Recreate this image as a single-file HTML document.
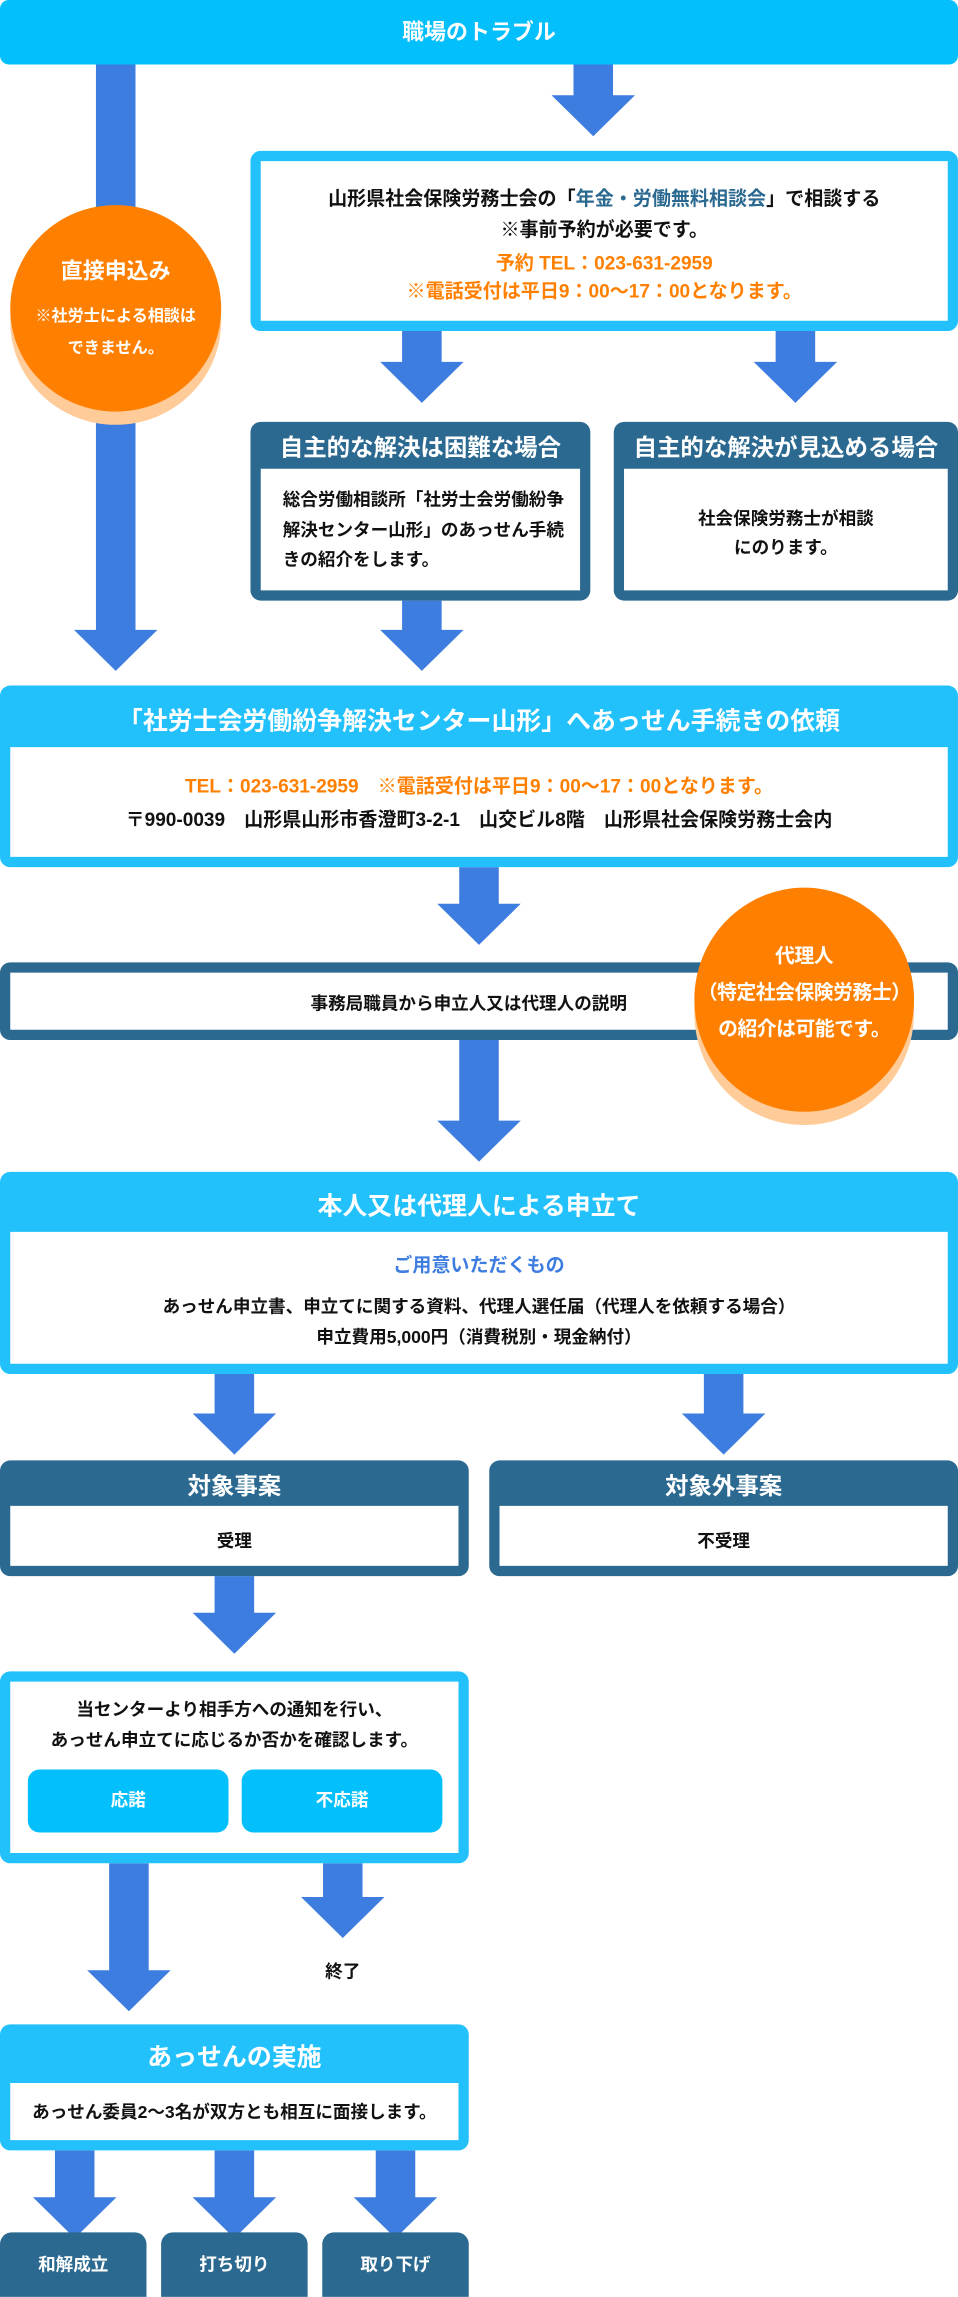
<!DOCTYPE html>
<html><head><meta charset="utf-8"><style>
*{margin:0;padding:0;box-sizing:border-box}
html,body{width:958px;height:2296px;overflow:hidden;background:#fff}
#w{position:absolute;left:0;top:0;width:654px;height:1568px;transform:scale(1.46483);transform-origin:0 0;font-family:"Liberation Sans","Noto Sans CJK JP",sans-serif;font-weight:bold}
.a{position:absolute}
.t{position:absolute;left:0;right:0;text-align:center;white-space:nowrap}
.cy{border:7px solid #22c1fc;border-radius:7px;background:#fff}
.dk{border:7px solid #2b6990;border-radius:7px;background:#fff}
.hc{background:#22c1fc}
.hd{background:#2b6990}
.wh{color:#fff}
.or{color:#ff8000}
.circ{position:absolute;border-radius:50%;background:#ff8000;box-shadow:0 9px 0 #ffcc99;color:#fff;text-align:center}
</style></head><body><div id="w">
<svg class="a" style="left:0;top:0" width="654" height="1568" fill="#3e7de0">
<polygon points="65.5,44 92.5,44 92.5,430 107.5,430 79,458 50.5,430 65.5,430"/>
<polygon points="391.5,44 418.5,44 418.5,65 433.5,65 405,93 376.5,65 391.5,65"/>
<polygon points="274.5,226 301.5,226 301.5,247 316.5,247 288,275 259.5,247 274.5,247"/>
<polygon points="529.5,226 556.5,226 556.5,247 571.5,247 543,275 514.5,247 529.5,247"/>
<polygon points="274.5,410 301.5,410 301.5,430 316.5,430 288,458 259.5,430 274.5,430"/>
<polygon points="313.5,592 340.5,592 340.5,617 355.5,617 327,645 298.5,617 313.5,617"/>
<polygon points="313.5,710 340.5,710 340.5,765 355.5,765 327,793 298.5,765 313.5,765"/>
<polygon points="146.5,938 173.5,938 173.5,965 188.5,965 160,993 131.5,965 146.5,965"/>
<polygon points="480.5,938 507.5,938 507.5,965 522.5,965 494,993 465.5,965 480.5,965"/>
<polygon points="146.5,1076 173.5,1076 173.5,1101 188.5,1101 160,1129 131.5,1101 146.5,1101"/>
<polygon points="74.5,1272 101.5,1272 101.5,1345 116.5,1345 88,1373 59.5,1345 74.5,1345"/>
<polygon points="220.5,1272 247.5,1272 247.5,1295 262.5,1295 234,1323 205.5,1295 220.5,1295"/>
<polygon points="37.5,1468 64.5,1468 64.5,1500 79.5,1500 51,1528 22.5,1500 37.5,1500"/>
<polygon points="146.5,1468 173.5,1468 173.5,1500 188.5,1500 160,1528 131.5,1500 146.5,1500"/>
<polygon points="256.5,1468 283.5,1468 283.5,1500 298.5,1500 270,1528 241.5,1500 256.5,1500"/>
</svg>

<div class="a" style="left:0;top:0;width:654px;height:44px;background:#03bffc;border-radius:6px"></div>
<div class="t wh" style="top:11px;font-size:15px">職場のトラブル</div>

<div class="circ" style="left:7px;top:140px;width:144px;height:141px">
<div style="margin-top:34px;font-size:15px">直接申込み</div>
<div style="margin-top:10px;font-size:11px;line-height:22px">※社労士による相談は<br>できません。</div>
</div>

<div class="a cy" style="left:171px;top:103px;width:483px;height:123px;font-size:13px;text-align:center;line-height:21px;padding-top:15px;color:#111">
山形県社会保険労務士会の「<span style="color:#2b6990">年金・労働無料相談会</span>」で相談する<br>※事前予約が必要です。
<div class="or" style="margin-top:3px;line-height:19px">予約 TEL：023-631-2959<br>※電話受付は平日9：00〜17：00となります。</div>
</div>

<div class="a dk" style="left:171px;top:288px;width:232px;height:122px;border-top-width:32px;font-size:12px;line-height:20.5px;padding:11px 0 0 15px;color:#111">総合労働相談所「社労士会労働紛争<br>解決センター山形」のあっせん手続<br>きの紹介をします。</div>
<div class="t wh" style="left:171px;width:232px;top:292px;font-size:16px">自主的な解決は困難な場合</div>
<div class="a dk" style="left:419px;top:288px;width:235px;height:122px;border-top-width:32px;font-size:12px;line-height:20px;padding-top:24px;text-align:center;color:#111">社会保険労務士が相談<br>にのります。</div>
<div class="t wh" style="left:419px;width:235px;top:292px;font-size:16px">自主的な解決が見込める場合</div>

<div class="a cy" style="left:0;top:468px;width:654px;height:124px;border-top-width:42px"></div>
<div class="t wh" style="top:478px;font-size:17px">「社労士会労働紛争解決センター山形」へあっせん手続きの依頼</div>
<div class="t or" style="top:526px;font-size:13px">TEL：023-631-2959　※電話受付は平日9：00〜17：00となります。</div>
<div class="t" style="top:549px;font-size:13px;color:#111">〒990-0039　山形県山形市香澄町3-2-1　山交ビル8階　山形県社会保険労務士会内</div>

<div class="a dk" style="left:0;top:657px;width:654px;height:53px"></div>
<div class="a" style="left:0;width:640px;top:676px;text-align:center;font-size:12px;color:#111">事務局職員から申立人又は代理人の説明</div>

<div class="circ" style="left:474px;top:606px;width:150px;height:153px;font-size:13.5px;line-height:25px;padding-top:34px;white-space:nowrap;letter-spacing:-0.3px">代理人<br><span style="display:inline-block;margin-left:-4px;margin-right:-4px">（特定社会保険労務士）</span><br>の紹介は可能です。</div>

<div class="a cy" style="left:0;top:800px;width:654px;height:138px;border-top-width:41px"></div>
<div class="t wh" style="top:809px;font-size:17px">本人又は代理人による申立て</div>
<div class="t" style="top:853px;font-size:13px;color:#3e7de0">ご用意いただくもの</div>
<div class="t" style="top:882px;font-size:12px;color:#111;line-height:21px">あっせん申立書、申立てに関する資料、代理人選任届（代理人を依頼する場合）<br>申立費用5,000円（消費税別・現金納付）</div>

<div class="a dk" style="left:0;top:997px;width:320px;height:79px;border-top-width:31px"></div>
<div class="t wh" style="width:320px;top:1001px;font-size:16px">対象事案</div>
<div class="t" style="width:320px;top:1043px;font-size:12px;color:#111">受理</div>
<div class="a dk" style="left:334px;top:997px;width:320px;height:79px;border-top-width:31px"></div>
<div class="t wh" style="left:334px;width:320px;top:1001px;font-size:16px">対象外事案</div>
<div class="t" style="left:334px;width:320px;top:1043px;font-size:12px;color:#111">不受理</div>

<div class="a cy" style="left:0;top:1141px;width:320px;height:131px"></div>
<div class="t" style="width:320px;top:1157px;font-size:12px;color:#111;line-height:21px">当センターより相手方への通知を行い、<br>あっせん申立てに応じるか否かを確認します。</div>
<div class="a" style="left:19px;top:1208px;width:137px;height:43px;background:#03bffc;border-radius:8px;color:#fff;font-size:12px;text-align:center;line-height:43px">応諾</div>
<div class="a" style="left:165px;top:1208px;width:137px;height:43px;background:#03bffc;border-radius:8px;color:#fff;font-size:12px;text-align:center;line-height:43px">不応諾</div>
<div class="a" style="left:204px;width:60px;top:1337px;text-align:center;font-size:12px;color:#111">終了</div>

<div class="a cy" style="left:0;top:1382px;width:320px;height:86px;border-top-width:40px"></div>
<div class="t wh" style="width:320px;top:1390px;font-size:17px">あっせんの実施</div>
<div class="t" style="width:320px;top:1433px;font-size:12px;color:#111">あっせん委員2〜3名が双方とも相互に面接します。</div>

<div class="a hd" style="left:0;top:1524px;width:100px;height:44px;border-radius:8px 8px 0 0;color:#fff;font-size:12px;text-align:center;line-height:44px">和解成立</div>
<div class="a hd" style="left:110px;top:1524px;width:100px;height:44px;border-radius:8px 8px 0 0;color:#fff;font-size:12px;text-align:center;line-height:44px">打ち切り</div>
<div class="a hd" style="left:220px;top:1524px;width:100px;height:44px;border-radius:8px 8px 0 0;color:#fff;font-size:12px;text-align:center;line-height:44px">取り下げ</div>
</div></body></html>
